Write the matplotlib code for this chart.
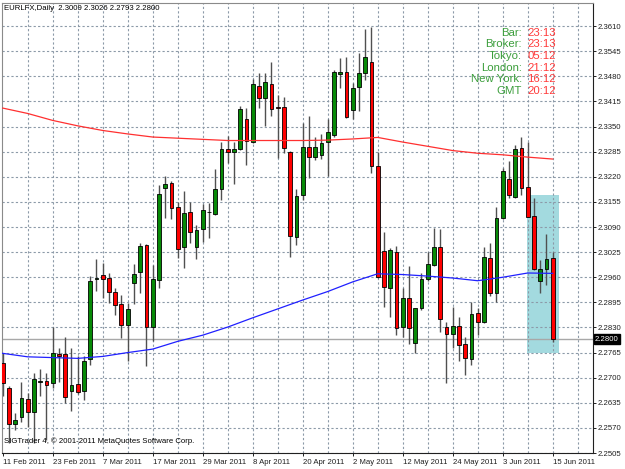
import matplotlib
matplotlib.use("Agg")
import matplotlib.pyplot as plt
from matplotlib.patches import Rectangle

plt.rcParams['font.family'] = ['Liberation Sans', 'DejaVu Sans']

# daily EURLFX bars, 11 Feb 2011 .. 15 Jun 2011
opens = [2.2739, 2.2672, 2.2580, 2.2598, 2.2644, 2.2612, 2.2690, 2.2692, 2.2686, 2.2762,
         2.2761, 2.2666, 2.2684, 2.2666, 2.2749, 2.2956, 2.2965, 2.2957, 2.2921, 2.2890,
         2.2837, 2.2945, 2.2973, 2.3044, 2.2831, 2.2953, 2.3192, 2.3203, 2.3141, 2.3038,
         2.3128, 2.3038, 2.3084, 2.3128, 2.3125, 2.3189, 2.3292, 2.3284, 2.3292, 2.3369,
         2.3310, 2.3455, 2.3425, 2.3461, 2.3402, 2.3400, 2.3284, 2.3064, 2.3173, 2.3298,
         2.3272, 2.3277, 2.3310, 2.3328, 2.3486, 2.3492, 2.3393, 2.3452, 2.3490, 2.3518,
         2.3249, 2.3028, 2.2933, 2.3025, 2.2831, 2.2906, 2.2791, 2.2880, 2.2955, 2.2992,
         2.3039, 2.2832, 2.2812, 2.2835, 2.2787, 2.2748, 2.2867, 2.2844, 2.3009, 2.2919,
         2.3114, 2.3214, 2.3169, 2.3294, 2.3193, 2.3119, 2.2949, 2.2981, 2.3009]
highs = [2.2765, 2.2679, 2.2609, 2.2690, 2.2660, 2.2712, 2.2722, 2.2712, 2.2832, 2.2776,
         2.2806, 2.2776, 2.2755, 2.2755, 2.2962, 2.3007, 2.2998, 2.2972, 2.2933, 2.2914,
         2.2894, 2.2994, 2.3048, 2.3045, 2.2992, 2.3199, 2.3223, 2.3208, 2.3156, 2.3184,
         2.3154, 2.3095, 2.3150, 2.3152, 2.3240, 2.3309, 2.3326, 2.3311, 2.3404, 2.3398,
         2.3473, 2.3488, 2.3488, 2.3517, 2.3432, 2.3426, 2.3288, 2.3188, 2.3359, 2.3378,
         2.3324, 2.3330, 2.3369, 2.3497, 2.3527, 2.3529, 2.3464, 2.3540, 2.3602, 2.3609,
         2.3284, 2.3078, 2.3035, 2.3041, 2.2932, 2.2988, 2.2881, 2.2970, 2.3026, 2.3087,
         2.3084, 2.2843, 2.2884, 2.2858, 2.2806, 2.2897, 2.2880, 2.3039, 2.3048, 2.3141,
         2.3242, 2.3262, 2.3303, 2.3324, 2.3311, 2.3165, 2.3005, 2.3071, 2.3026]
lows = [2.2653, 2.2530, 2.2565, 2.2584, 2.2573, 2.2530, 2.2653, 2.2539, 2.2673, 2.2690,
        2.2635, 2.2615, 2.2658, 2.2641, 2.2733, 2.2925, 2.2906, 2.2893, 2.2862, 2.2802,
        2.2742, 2.2890, 2.2920, 2.2731, 2.2796, 2.2933, 2.3113, 2.3110, 2.3011, 2.2985,
        2.3048, 2.3007, 2.3052, 2.3061, 2.3121, 2.3160, 2.3257, 2.3202, 2.3290, 2.3251,
        2.3307, 2.3398, 2.3352, 2.3378, 2.3270, 2.3281, 2.3013, 2.3044, 2.3160, 2.3216,
        2.3264, 2.3266, 2.3222, 2.3323, 2.3449, 2.3373, 2.3369, 2.3391, 2.3471, 2.3229,
        2.2957, 2.2884, 2.2858, 2.2811, 2.2805, 2.2787, 2.2763, 2.2875, 2.2949, 2.2988,
        2.2819, 2.2686, 2.2776, 2.2742, 2.2707, 2.2733, 2.2811, 2.2841, 2.2912, 2.2897,
        2.3110, 2.3165, 2.3165, 2.3173, 2.3115, 2.2979, 2.2920, 2.2940, 2.2793]
closes = [2.2686, 2.2580, 2.2591, 2.2647, 2.2611, 2.2696, 2.2691, 2.2681, 2.2763, 2.2756,
          2.2651, 2.2681, 2.2664, 2.2742, 2.2951, 2.2957, 2.2956, 2.2923, 2.2888, 2.2837,
          2.2878, 2.2969, 2.3042, 2.2830, 2.2956, 2.3175, 2.3201, 2.3139, 2.3033, 2.3127,
          2.3078, 2.3083, 2.3133, 2.3128, 2.3188, 2.3292, 2.3284, 2.3293, 2.3395, 2.3313,
          2.3461, 2.3425, 2.3465, 2.3396, 2.3398, 2.3294, 2.3068, 2.3171, 2.3297, 2.3271,
          2.3297, 2.3307, 2.3335, 2.3492, 2.3492, 2.3376, 2.3451, 2.3488, 2.3531, 2.3248,
          2.2960, 2.2936, 2.3031, 2.2828, 2.2906, 2.2828, 2.2880, 2.2955, 2.2994, 2.3039,
          2.2852, 2.2813, 2.2835, 2.2785, 2.2750, 2.2864, 2.2844, 2.3012, 2.2919, 2.3113,
          2.3235, 2.3173, 2.3292, 2.3191, 2.3117, 2.2981, 2.2981, 2.3007, 2.2800]

# moving averages, sampled every 4th bar
ma_bars = [0, 4, 8, 12, 16, 20, 24, 28, 32, 36, 40, 44, 48, 52, 56, 60, 64, 68, 72, 76, 80, 84, 88]
ma_slow = [2.3398, 2.3384, 2.3366, 2.3352, 2.3340, 2.3331, 2.3323, 2.3320, 2.3317, 2.3314,
           2.3314, 2.3314, 2.3314, 2.3315, 2.3318, 2.3322, 2.3310, 2.3299, 2.3288, 2.3281,
           2.3277, 2.3271, 2.3266]
ma_fast = [2.2763, 2.2754, 2.2752, 2.2750, 2.2755, 2.2765, 2.2774, 2.2794, 2.2810, 2.2831,
           2.2855, 2.2878, 2.2901, 2.2923, 2.2948, 2.2969, 2.2967, 2.2963, 2.2958, 2.2951,
           2.2960, 2.2971, 2.2970]

date_labels = ['11 Feb 2011', '23 Feb 2011', '7 Mar 2011', '17 Mar 2011', '29 Mar 2011',
               '8 Apr 2011', '20 Apr 2011', '2 May 2011', '12 May 2011', '24 May 2011',
               '3 Jun 2011', '15 Jun 2011']
price_labels = ['2.2505', '2.2570', '2.2635', '2.2700', '2.2765', '2.2830', '2.2895',
                '2.2960', '2.3025', '2.3090', '2.3155', '2.3220', '2.3285', '2.3350',
                '2.3415', '2.3480', '2.3545', '2.3610']
last_price = 2.2800
box_bars = [83.95, 89.0]
box_prices = [2.2765, 2.3173]

clock_names = ['Bar:', 'Broker:', 'Tokyo:', 'London:', 'New York:', 'GMT']
clock_times = ['23:13', '23:13', '05:12', '21:12', '16:12', '20:12']

W, H = 625, 469
fig = plt.figure(figsize=(W / 100, H / 100), dpi=100)
ax = fig.add_axes([2 / W, 16 / H, 591 / W, 450 / H])
ax.set_xlim(-0.11, 94.45)
ax.set_ylim(2.2505, 2.3670)

grid_col = '#8c9aa8'
for t in price_labels:
    ax.axhline(float(t), color=grid_col, lw=0.8, ls=(0, (2, 2)), zorder=1)
for b in range(4, 95, 4):
    ax.axvline(b, color=grid_col, lw=0.8, ls=(0, (2, 2)), zorder=1)

# highlighted zone
ax.add_patch(Rectangle((box_bars[0], box_prices[0]), box_bars[1] - box_bars[0],
                       box_prices[1] - box_prices[0], facecolor='#a3dadf',
                       edgecolor='none', zorder=0.5))

ax.axhline(last_price, color='#a8a8a8', lw=1.0, zorder=1.5)

for i in range(len(opens)):
    o, h, l, c = opens[i], highs[i], lows[i], closes[i]
    ax.vlines(i, l, h, color='#505050', lw=1.0, zorder=2)
    fill = '#078a07' if c >= o else '#ff0000'
    ax.bar(i, abs(c - o), bottom=min(o, c), width=0.62, color=fill,
           edgecolor='black', lw=0.6, zorder=3)

ax.plot(ma_bars, ma_slow, color='#ff3030', lw=0.9, zorder=4)
ax.plot(ma_bars, ma_fast, color='#2020ff', lw=0.9, zorder=4)

# axes styling
for s in ['left', 'top']:
    ax.spines[s].set_color('#8a8a8a')
for s in ['right', 'bottom']:
    ax.spines[s].set_color('#202020')
ax.yaxis.tick_right()
ax.set_yticks([float(t) for t in price_labels])
ax.set_yticklabels(price_labels)
ax.set_xticks(range(0, 89, 8))
ax.set_xticklabels(date_labels, ha='left')
ax.tick_params(axis='both', direction='out', length=2.2, width=0.7, labelsize=5.6,
               colors='#202020', pad=1.2)
ax.tick_params(axis='x', pad=2.0)

ax.text(1.003, last_price, '2.2800', transform=ax.get_yaxis_transform(), ha='left',
        va='center', fontsize=5.6, color='white', clip_on=False, zorder=6,
        bbox=dict(facecolor='black', edgecolor='black', pad=0.8))

fig.text(4 / W, 1 - 9 / H, 'EURLFX,Daily  2.3009 2.3026 2.2793 2.2800', fontsize=5.6,
         ha='left', va='center', color='black')
fig.text(4 / W, 1 - 441 / H, 'SIGTrader 4, © 2001-2011 MetaQuotes Software Corp.',
         fontsize=5.6, ha='left', va='center', color='black')

row_y = [32.5, 44.3, 56.0, 67.7, 79.3, 91.0]
for name, tm, y in zip(clock_names, clock_times, row_y):
    fig.text(522 / W, 1 - y / H, name, fontsize=8.2, ha='right', va='center', color='#3c9e3c')
    fig.text(527 / W, 1 - y / H, tm, fontsize=8.2, ha='left', va='center', color='#ff3a3a')

fig.savefig('out.png', dpi=100)
